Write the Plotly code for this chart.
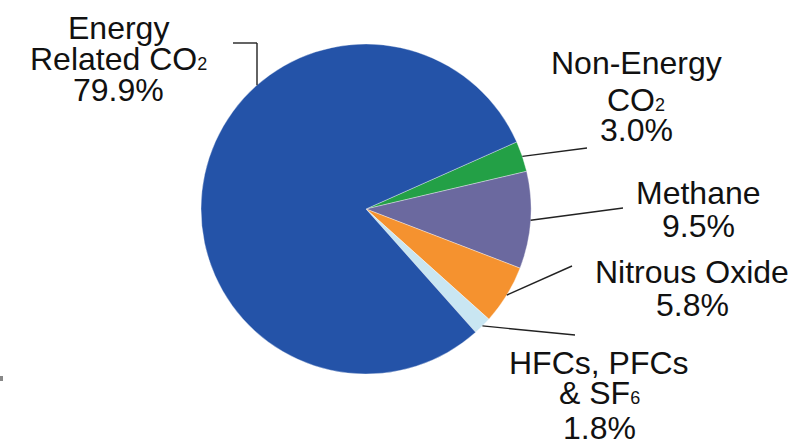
import math
import plotly.graph_objects as go

W, H = 812, 445

# Share of emissions by gas (percent)
categories = ["Non-Energy CO2", "Methane", "Nitrous Oxide", "HFCs, PFCs & SF6", "Energy Related CO2"]
values = [3.0, 9.5, 5.8, 1.8, 79.9]
colors = ["#23A046", "#6B699F", "#F5922F", "#C9E6F2", "#2453A8"]

# Label lines (one entry per slice, top to bottom)
label_lines = [
    ["Non-Energy", "CO<span style='font-size:18px'>2</span>", "3.0%"],
    ["Methane", "9.5%"],
    ["Nitrous Oxide", "5.8%"],
    ["HFCs, PFCs", "&amp; SF<span style='font-size:18px'>6</span>", "1.8%"],
    ["Energy", "Related CO<span style='font-size:18px'>2</span>", "79.9%"],
]

# Pie placement in pixels
CX, CY, R = 366, 209, 165
ROTATION = 66  # clockwise start angle of the first slice, from 12 o'clock

# Label block placement: (center x, center y of each line)
label_pos = [
    (636, [63, 100, 130]),
    (698, [193, 226]),
    (692, [272, 305]),
    (599, [363, 393, 428]),
    (118, [28, 59, 90]),
]
# Where each leader line ends (None for the bracket-style leader)
leader_end = [(587, 148), (623, 208), (572, 266), (575, 335), None]

FONT = dict(family="Liberation Sans, Arial, sans-serif", size=32, color="#111111")

fig = go.Figure()
fig.add_trace(go.Pie(
    labels=categories,
    values=values,
    sort=False,
    direction="clockwise",
    rotation=ROTATION,
    marker=dict(colors=colors, line=dict(color="rgba(255,255,255,0.6)", width=0.6)),
    textinfo="none",
    hoverinfo="label+percent",
    showlegend=False,
    domain=dict(x=[(CX - R) / W, (CX + R) / W],
                y=[(H - CY - R) / H, (H - CY + R) / H]),
))

shapes = []
annotations = []
total = sum(values)
start = ROTATION
for i, v in enumerate(values):
    span = 360 * v / total
    mid = start + span / 2  # clockwise degrees from 12 o'clock
    start += span
    a = math.radians(90 - mid)
    ex, ey = CX + R * math.cos(a), CY - R * math.sin(a)
    end = leader_end[i]
    if end is not None:
        shapes.append(dict(type="line", xref="x", yref="y", x0=ex, y0=ey,
                           x1=end[0], y1=end[1], line=dict(color="#222", width=1.4)))
    xc, ys = label_pos[i]
    for line, y in zip(label_lines[i], ys):
        annotations.append(dict(text=line, x=xc, y=y, xref="x", yref="y",
                                xanchor="center", yanchor="middle", showarrow=False,
                                font=FONT))

# Bracket leader for the large slice: short tick, then down to the rim
bx, by, bx0 = 257, 43, 233
rim_y = CY - math.sqrt(R ** 2 - (bx - CX) ** 2)
shapes.append(dict(type="line", xref="x", yref="y", x0=bx0, y0=by, x1=bx, y1=by,
                   line=dict(color="#222", width=1.4)))
shapes.append(dict(type="line", xref="x", yref="y", x0=bx, y0=by, x1=bx, y1=rim_y,
                   line=dict(color="#222", width=1.4)))
# small grey mark at the left edge
shapes.append(dict(type="rect", xref="x", yref="y", x0=0, y0=376, x1=3, y1=381,
                   line=dict(width=0), fillcolor="#888"))

fig.update_layout(
    width=W, height=H,
    margin=dict(l=0, r=0, t=0, b=0),
    paper_bgcolor="white", plot_bgcolor="rgba(0,0,0,0)",
    xaxis=dict(range=[0, W], visible=False, fixedrange=True),
    yaxis=dict(range=[H, 0], visible=False, fixedrange=True),
    shapes=shapes,
    annotations=annotations,
)

fig.write_html("out.html")
